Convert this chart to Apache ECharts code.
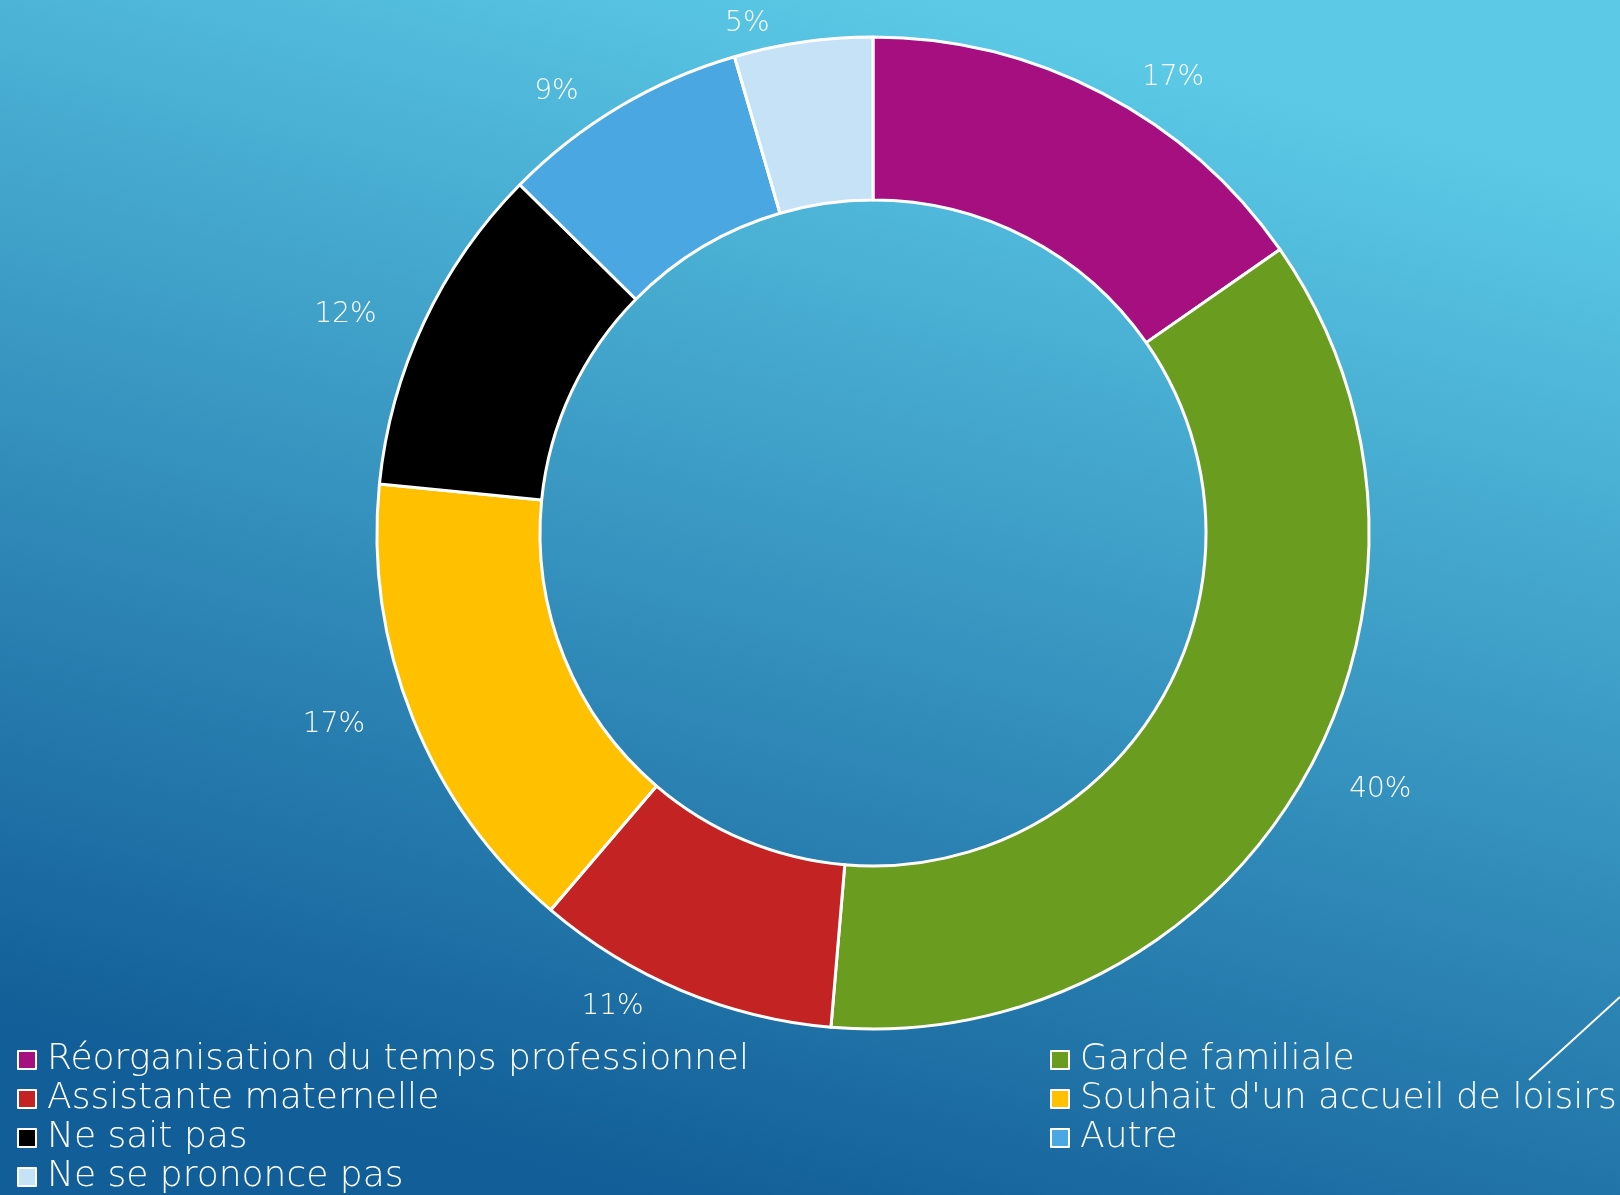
<!DOCTYPE html>
<html>
<head>
<meta charset="utf-8">
<script src="https://cdn.jsdelivr.net/npm/echarts@6/dist/echarts.min.js"></script>
<style>
  html, body { margin: 0; padding: 0; }
  #main { width: 1620px; height: 1195px; }
</style>
</head>
<body>
<div id="main"></div>
<script>
const categories = ['Réorganisation du temps professionnel', 'Garde familiale', 'Assistante maternelle',
  "Souhait d'un accueil de loisirs", 'Ne sait pas', 'Autre', 'Ne se prononce pas'];
const values = [17, 40, 11, 17, 12, 9, 5];
const colors = ['#A50F80', '#6A9D1F', '#C42323', '#FFC000', '#000000', '#4BA7E2', '#C6E2F6'];

let myChart = echarts.init(document.getElementById('main'));

const legendBase = {
  orient: 'vertical',
  top: 1037,
  height: 300,
  itemWidth: 18,
  itemHeight: 18,
  itemGap: 3,
  icon: 'rect',
  itemStyle: { borderColor: '#fff', borderWidth: 2 },
  textStyle: {
    color: '#fff',
    fontFamily: 'DejaVu Sans',
    fontWeight: 300,
    fontSize: 36,
    lineHeight: 33,
    padding: [0, 0, 0, 6]
  }
};

let option = {
  backgroundColor: {
    type: 'linear', x: 0.6, y: 0, x2: 0.4, y2: 1,
    colorStops: [
      { offset: 0, color: '#5CCAE7' },
      { offset: 1, color: '#125E98' }
    ]
  },
  legend: [
    Object.assign({}, legendBase, { left: 12, data: categories.filter((c, i) => i % 2 === 0) }),
    Object.assign({}, legendBase, { left: 1045, data: categories.filter((c, i) => i % 2 === 1) })
  ],
  graphic: [{
    type: 'line',
    shape: { x1: 1620, y1: 997, x2: 1529, y2: 1080 },
    style: { stroke: '#fff', lineWidth: 2 }
  }],
  series: [{
    type: 'pie',
    center: [873, 533],
    radius: [333, 496],
    startAngle: 90,
    avoidLabelOverlap: false,
    itemStyle: { borderColor: '#fff', borderWidth: 3 },
    label: {
      show: true,
      position: 'outside',
      formatter: '{c}%',
      color: '#fff',
      fontFamily: 'DejaVu Sans',
      fontWeight: 300,
      fontSize: 28
    },
    labelLine: { show: false, length: 18, length2: 26 },
    emphasis: { scale: false },
    data: categories.map((name, i) => ({
      name: name,
      value: values[i],
      itemStyle: { color: colors[i] }
    }))
  }]
};
myChart.setOption(option);
</script>
</body>
</html>
